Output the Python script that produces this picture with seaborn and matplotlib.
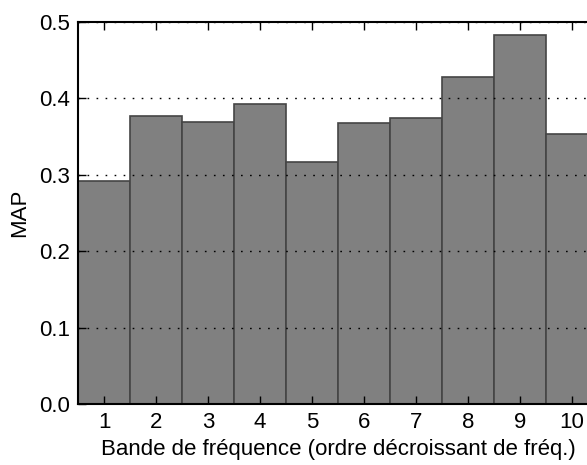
import numpy as np
import pandas as pd
import matplotlib
matplotlib.use("Agg")
import matplotlib.pyplot as plt
import seaborn as sns

bandes = [1, 2, 3, 4, 5, 6, 7, 8, 9, 10]
map_vals = [0.292, 0.377, 0.369, 0.393, 0.317, 0.368, 0.374, 0.428, 0.483, 0.353]

df = pd.DataFrame({"bande": bandes, "MAP": map_vals})

sns.set_style("ticks")
plt.rcParams['font.family'] = ['Liberation Sans', 'DejaVu Sans']

fig = plt.figure(figsize=(5.87, 4.65), dpi=100)
ax = fig.add_axes([78 / 587, 61 / 465, 520 / 587, 382 / 465])

sns.barplot(data=df, x="bande", y="MAP", color="#808080", saturation=1,
            width=1.0, edgecolor="#454545", linewidth=1.2, ax=ax)

ax.set_xlim(-0.5, 9.5)
ax.set_ylim(0, 0.5)
ax.set_yticks([0.0, 0.1, 0.2, 0.3, 0.4, 0.5])
ax.set_yticklabels(["0.0", "0.1", "0.2", "0.3", "0.4", "0.5"])

ax.set_axisbelow(False)
ax.yaxis.grid(True, color="black", linestyle=(0, (1.2, 5.3)), linewidth=1)
ax.xaxis.grid(False)

for s in ["left", "top", "bottom"]:
    ax.spines[s].set_linewidth(1.5)
    ax.spines[s].set_color("black")
    ax.spines[s].set_visible(True)
ax.spines["right"].set_visible(False)

ax.tick_params(axis="both", direction="in", length=6, width=1, labelsize=16,
               colors="black", labelcolor="black")
ax.tick_params(axis="x", top=True, pad=6)
ax.tick_params(axis="y", pad=6)

ax.set_xlabel("Bande de fréquence (ordre décroissant de fréq.)", fontsize=16,
              labelpad=4, color="black")
ax.set_ylabel("MAP", fontsize=16, labelpad=6, color="black")

fig.savefig("out.png", dpi=100)
